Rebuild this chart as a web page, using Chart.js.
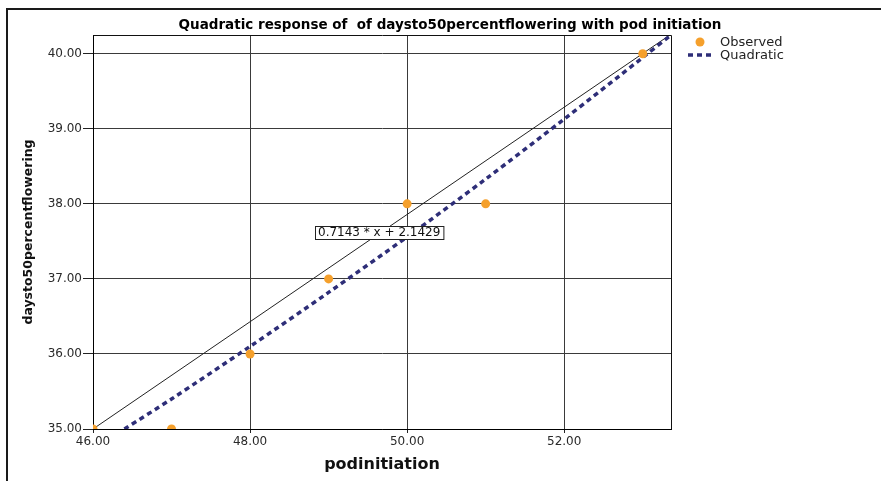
<!DOCTYPE html>
<html>
<head>
<meta charset="utf-8">
<script src="https://cdn.jsdelivr.net/npm/chart.js@4.4.1/dist/chart.umd.min.js"></script>
<style>
  html, body { margin: 0; padding: 0; background: #fff; }
  #wrap { position: relative; width: 881px; height: 481px; overflow: hidden; }
  #frame { position: absolute; left: 6px; top: 8px; width: 900px; height: 500px;
           border-left: 2px solid #1a1a1a; border-top: 2px solid #1a1a1a; pointer-events: none; }
  canvas { position: absolute; left: 0; top: 0; }
</style>
</head>
<body>
<div id="wrap">
  <canvas id="c" width="881" height="481"></canvas>
  <div id="frame"></div>
</div>
<script>
// ---- data ----
const titleText = 'Quadratic response of  of daysto50percentflowering with pod initiation';
const xTitle = 'podinitiation';
const yTitle = 'daysto50percentflowering';
const xTicks = [46, 48, 50, 52];
const yTicks = [35, 36, 37, 38, 39, 40];
const xRange = [46, 53.36];
const yRange = [35, 40.25];
const observedX = [46, 47, 48, 49, 50, 51, 53];
const observedY = [35, 35, 36, 37, 38, 38, 40];
const quadX = [46.4, 47, 48, 49, 50, 51, 52, 53, 53.36];
const quadY = [35, 35.4, 36.1, 36.82, 37.56, 38.33, 39.13, 39.95, 40.25];
const refX = [46, 53.36];
const refY = [35, 40.26];
const seriesNames = ['Observed', 'Quadratic'];
const fitLabel = '0.7143 * x + 2.1429';
const fitLabelAt = [48.83, 37.71];

const toPts = (xs, ys) => xs.map((x, i) => ({ x: x, y: ys[i] }));
const FONT = "'DejaVu Sans', sans-serif";
const orange = '#F5A02C';
const navy = '#2E2E78';

const overlay = {
  id: 'overlay',
  afterDraw(chart) {
    const ctx = chart.ctx;
    const ca = chart.chartArea;
    ctx.save();
    // plot box top/right
    ctx.strokeStyle = '#111';
    ctx.lineWidth = 1;
    ctx.beginPath();
    ctx.moveTo(Math.round(ca.left) + 0.5, Math.round(ca.top) + 0.5);
    ctx.lineTo(Math.round(ca.right) + 0.5, Math.round(ca.top) + 0.5);
    ctx.lineTo(Math.round(ca.right) + 0.5, Math.round(ca.bottom) + 0.5);
    ctx.stroke();
    // title
    ctx.fillStyle = '#000';
    ctx.font = "bold 13.5px " + FONT;
    ctx.textAlign = 'center';
    ctx.textBaseline = 'middle';
    ctx.fillText(titleText, 450, 25);
    // legend
    ctx.fillStyle = orange;
    ctx.beginPath();
    ctx.arc(700, 42, 4.5, 0, Math.PI * 2);
    ctx.fill();
    ctx.strokeStyle = navy;
    ctx.lineWidth = 3.5;
    ctx.setLineDash([5, 4]);
    ctx.beginPath();
    ctx.moveTo(688, 55);
    ctx.lineTo(711, 55);
    ctx.stroke();
    ctx.setLineDash([]);
    ctx.fillStyle = '#222';
    ctx.font = "13px " + FONT;
    ctx.textAlign = 'left';
    ctx.fillText(seriesNames[0], 720, 43);
    ctx.fillText(seriesNames[1], 720, 56);
    // fit label box
    const xs = chart.scales.x, ys = chart.scales.y;
    const bx = Math.round(xs.getPixelForValue(fitLabelAt[0]));
    const by = Math.round(ys.getPixelForValue(fitLabelAt[1]));
    ctx.font = "12px " + FONT;
    const w = ctx.measureText(fitLabel).width;
    ctx.fillStyle = '#fff';
    ctx.fillRect(bx, by, w + 6, 13);
    ctx.strokeStyle = '#222';
    ctx.lineWidth = 1;
    ctx.strokeRect(bx + 0.5, by + 0.5, w + 6, 13);
    ctx.fillStyle = '#111';
    ctx.textBaseline = 'middle';
    ctx.fillText(fitLabel, bx + 3, by + 7);
    ctx.restore();
  }
};

new Chart(document.getElementById('c'), {
  type: 'scatter',
  data: {
    datasets: [
      { label: seriesNames[0], data: toPts(observedX, observedY), showLine: false,
        pointRadius: 4.5, pointHoverRadius: 4.5, backgroundColor: orange, borderColor: orange, borderWidth: 0 },
      { label: seriesNames[1], data: toPts(quadX, quadY), showLine: true, pointRadius: 0,
        borderColor: navy, borderWidth: 3.5, borderDash: [5, 4], tension: 0.3 },
      { label: 'ref', data: toPts(refX, refY), showLine: true, pointRadius: 0,
        borderColor: '#222', borderWidth: 1 }
    ]
  },
  options: {
    responsive: false,
    animation: false,
    devicePixelRatio: 1,
    layout: { padding: { left: 0, top: 35, right: 210, bottom: 0 } },
    plugins: { legend: { display: false }, title: { display: false }, tooltip: { enabled: false } },
    scales: {
      x: {
        type: 'linear', min: xRange[0], max: xRange[1],
        afterFit(s) { s.height = 52; },
        afterBuildTicks(s) { s.ticks = xTicks.map(v => ({ value: v })); },
        grid: { color: '#3a3a3a', lineWidth: 1, tickLength: 4, tickColor: '#222' },
        border: { color: '#000', width: 1 },
        ticks: { color: '#2a2a2a', font: { family: FONT, size: 12 }, padding: 2,
                 maxRotation: 0, autoSkip: false, callback: v => Number(v).toFixed(2) },
        title: { display: true, text: xTitle, color: '#111',
                 font: { family: FONT, size: 16, weight: 'bold' }, padding: { top: 0, bottom: 7 } }
      },
      y: {
        type: 'linear', min: yRange[0], max: yRange[1],
        afterFit(s) { s.width = 93; },
        afterBuildTicks(s) { s.ticks = yTicks.map(v => ({ value: v })); },
        grid: { color: '#3a3a3a', lineWidth: 1, tickLength: 10, tickColor: '#222' },
        border: { color: '#000', width: 1 },
        ticks: { color: '#2a2a2a', font: { family: FONT, size: 12 }, padding: 1,
                 autoSkip: false, callback: v => Number(v).toFixed(2) },
        title: { display: true, text: yTitle, color: '#111',
                 font: { family: FONT, size: 12.5, weight: 'bold' },
                 padding: { top: 21, bottom: 0 } }
      }
    }
  },
  plugins: [overlay]
});
</script>
</body>
</html>
